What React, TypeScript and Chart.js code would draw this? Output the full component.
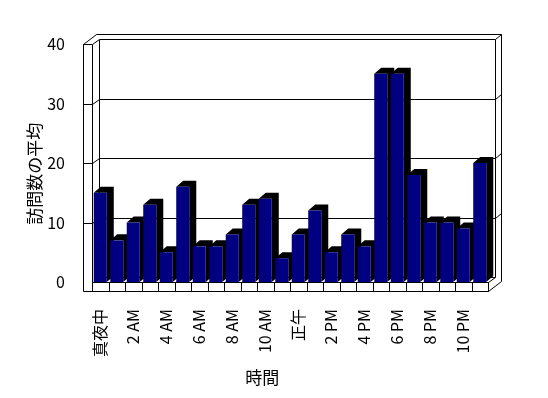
import React, { useEffect, useRef } from 'react';
import { Chart, registerables } from 'chart.js';

Chart.register(...registerables);

// ---- data ----
const categories = [
  '真夜中', '1 AM', '2 AM', '3 AM', '4 AM', '5 AM', '6 AM', '7 AM', '8 AM', '9 AM', '10 AM', '11 AM',
  '正午', '1 PM', '2 PM', '3 PM', '4 PM', '5 PM', '6 PM', '7 PM', '8 PM', '9 PM', '10 PM', '11 PM',
];
const xTickLabels = [
  '真夜中', '', '2 AM', '', '4 AM', '', '6 AM', '', '8 AM', '', '10 AM', '',
  '正午', '', '2 PM', '', '4 PM', '', '6 PM', '', '8 PM', '', '10 PM', '',
];
const visits = [15, 7, 10, 13, 5, 16, 6, 6, 8, 13, 14, 4, 8, 12, 5, 8, 6, 35, 35, 18, 10, 10, 9, 20];
const yTickValues = [0, 10, 20, 30, 40];
const xTitle = '時間';
const yTitle = '訪問数の平均';

const FONT = '"Noto Sans CJK JP", "Noto Sans", sans-serif';

const seg = (ctx: CanvasRenderingContext2D, x1: number, y1: number, x2: number, y2: number) => {
  const p = (v: number) => Math.round(v) + 0.5;
  ctx.beginPath();
  ctx.moveTo(p(x1), p(y1));
  ctx.lineTo(p(x2), p(y2));
  ctx.stroke();
};

const excel3d = {
  id: 'excel3d',
  beforeDatasetsDraw(chart: any) {
    const { ctx, chartArea, scales } = chart;
    const { left: L, right: R, top: T, bottom: B } = chartArea;
    const xs = scales.x;
    const ys = scales.y;
    const dx = 6.5, dy = -5;
    const wall = 9;
    const OL = L - wall;
    const FB = B + wall;
    ctx.save();
    ctx.strokeStyle = '#000';
    ctx.lineWidth = 1;
    // left wall
    seg(ctx, OL, T, OL, FB);
    seg(ctx, L, T, L, B);
    seg(ctx, OL, T, L, T);
    seg(ctx, OL, T, OL + 2 * dx, T + 2 * dy);
    seg(ctx, L, T, L + dx, T + dy);
    // back wall
    seg(ctx, L + dx, T + dy, R + dx, T + dy);
    seg(ctx, L + dx, T + dy, L + dx, B + dy);
    seg(ctx, R + dx, T + dy, R + dx, B + dy);
    seg(ctx, OL + 2 * dx, T + 2 * dy, R + 2 * dx, T + 2 * dy);
    seg(ctx, R + 2 * dx, T + 2 * dy, R + 2 * dx, FB + 2 * dy);
    seg(ctx, R + dx, T + dy, R + 2 * dx, T + 2 * dy);
    // gridlines
    yTickValues.forEach((v) => {
      if (v === 0 || v === ys.max) return;
      const py = ys.getPixelForValue(v);
      seg(ctx, OL, py, L, py);
      seg(ctx, L, py, L + dx, py + dy);
      seg(ctx, L + dx, py + dy, R + dx, py + dy);
      seg(ctx, R + dx, py + dy, R + 2 * dx, py + 2 * dy);
    });
    // floor
    seg(ctx, L + dx, B + dy, R + dx, B + dy);
    seg(ctx, L, B, R, B);
    seg(ctx, OL, FB, R, FB);
    seg(ctx, R, B, R, FB);
    seg(ctx, R, B, R + dx, B + dy);
    seg(ctx, R, FB, R + 2 * dx, FB + 2 * dy);
    // category dividers on floor front
    const n = categories.length;
    for (let i = 0; i <= n; i++) {
      let xb: number;
      if (i === 0) xb = L;
      else if (i === n) xb = R;
      else xb = (xs.getPixelForValue(i - 1) + xs.getPixelForValue(i)) / 2;
      seg(ctx, xb, B, xb, FB);
    }
    // bar sides and tops
    const bdx = 7, bdy = -6;
    const meta = chart.getDatasetMeta(0);
    ctx.fillStyle = '#000';
    meta.data.forEach((el: any) => {
      const { x, y, base, width } = el.getProps(['x', 'y', 'base', 'width'], true);
      const x0 = x - width / 2;
      const x1 = x + width / 2;
      ctx.beginPath();
      ctx.moveTo(x0, y);
      ctx.lineTo(x0 + bdx, y + bdy);
      ctx.lineTo(x1 + bdx, y + bdy);
      ctx.lineTo(x1 + bdx, base + bdy);
      ctx.lineTo(x1, base);
      ctx.lineTo(x1, y);
      ctx.closePath();
      ctx.fill();
    });
    ctx.restore();
  },
  afterDraw(chart: any) {
    const { ctx, chartArea } = chart;
    const { left: L, right: R, top: T, bottom: B } = chartArea;
    ctx.save();
    ctx.fillStyle = '#000';
    ctx.font = `17px ${FONT}`;
    ctx.textAlign = 'center';
    ctx.textBaseline = 'middle';
    ctx.fillText(xTitle, L + (R - L) * 0.43, B + 96);
    ctx.translate(L - 57, T + (B - T) * 0.545);
    ctx.rotate(-Math.PI / 2);
    ctx.fillText(yTitle, 0, 0);
    ctx.restore();
  },
};

export default function App() {
  const ref = useRef<HTMLCanvasElement>(null);
  useEffect(() => {
    if (!ref.current) return;
    const chart = new Chart(ref.current, {
      type: 'bar',
      data: {
        labels: categories,
        datasets: [
          {
            label: yTitle,
            data: visits,
            backgroundColor: '#000080',
            borderWidth: 0,
            inflateAmount: 0,
            barPercentage: 0.79,
            categoryPercentage: 1,
          },
        ],
      },
      options: {
        responsive: false,
        animation: false,
        layout: { padding: { top: 44, right: 60, left: 0, bottom: 0 } },
        plugins: { legend: { display: false }, tooltip: { enabled: false }, title: { display: false } },
        scales: {
          x: {
            grid: { display: false },
            border: { display: false },
            ticks: {
              autoSkip: false,
              maxRotation: 90,
              minRotation: 90,
              padding: 19,
              color: '#000',
              font: { family: FONT, size: 16 },
              callback: (_v: any, i: number) => xTickLabels[i],
            },
            afterFit: (s: any) => {
              s.height = 116;
            },
          },
          y: {
            min: 0,
            max: 40,
            grid: { display: false },
            border: { display: false },
            ticks: {
              stepSize: 10,
              padding: 19,
              color: '#000',
              font: { family: FONT, size: 16 },
            },
            afterFit: (s: any) => {
              s.width = 92;
            },
          },
        },
      },
      plugins: [excel3d],
    });
    return () => chart.destroy();
  }, []);
  return (
    <div style={{ position: 'fixed', left: 0, top: 0, width: 548, height: 398, background: '#fff' }}>
      <canvas ref={ref} width={548} height={398} style={{ display: 'block' }} />
    </div>
  );
}
